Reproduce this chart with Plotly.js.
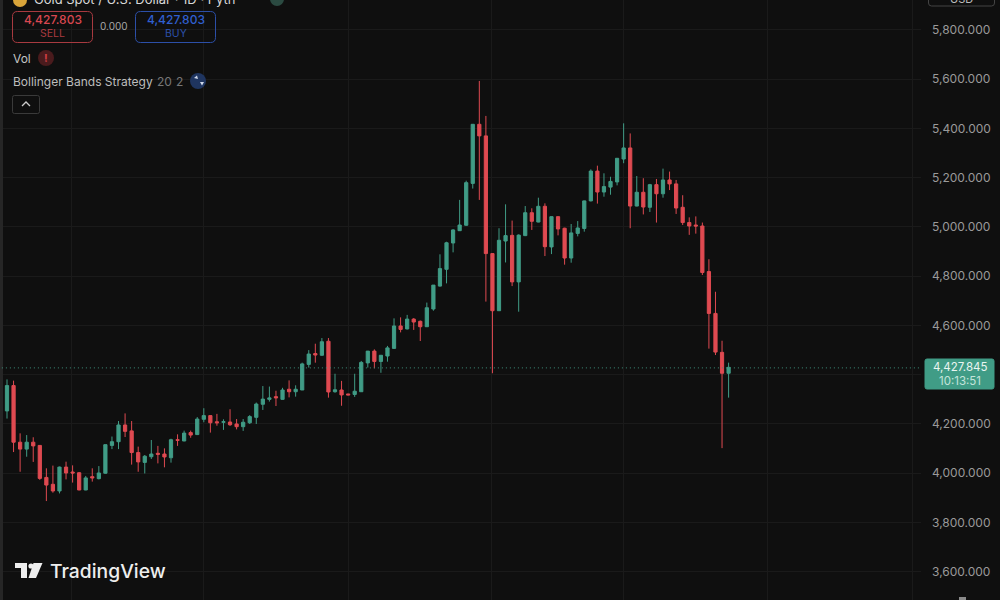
<!DOCTYPE html>
<html><head><meta charset="utf-8">
<script src="https://cdn.plot.ly/plotly-3.0.1.min.js"></script>
<style>html,body{margin:0;padding:0;background:#0f0f0f;overflow:hidden}#c{width:1000px;height:600px}</style>
</head><body><div id="c"></div>
<script>
const opens=[4253,4356,4126,4098,4126,4113,3983,3955,3928,4025,4005,4002,3932,3986,3978,4000,4113,4128,4196,4172,4084,4044,4067,4081,4078,4063,4136,4131,4165,4157,4219,4234,4209,4207,4208,4200,4189,
4205,4227,4280,4300,4311,4300,4341,4331,4338,4442,4486,4479,4536,4331,4338,4322,4320,4331,4448,4496,4454,4476,4507,4598,4586,4626,4617,
4595,4667,4760,4828,4935,4985,5007,5177,5417,5370,4892,4660,4943,4966,4777,4965,5058,5020,5084,4919,5042,4995,4874,4974,
4994,5106,5227,5142,5162,5183,5276,5321,5085,5141,5080,5172,5135,5191,5175,5080,5018,5008,5004,4819,4649,4491,4406];
const highs=[4381,4376,4162,4155,4146,4113,4020,4031,4027,4047,4032,4005,3989,4020,4029,4116,4149,4212,4243,4212,4108,4074,4135,4111,4101,4140,4158,4173,4173,4228,4264,4235,4241,4219,4260,4220,4220,
4236,4287,4354,4352,4335,4347,4377,4357,4449,4500,4526,4549,4549,4404,4375,4322,4404,4456,4496,4503,4480,4517,4629,4633,4643,4630,4620,
4693,4764,4889,4940,4991,5110,5188,5418,5593,5451,4893,4995,5092,5026,4970,5085,5076,5119,5096,5042,5042,4997,5012,5024,
5107,5234,5249,5218,5204,5280,5421,5380,5207,5198,5175,5195,5237,5225,5191,5129,5039,5043,5018,4869,4737,4538,4449];
const lows=[4222,4086,4006,4067,4046,3973,3887,3921,3918,3975,3962,3931,3931,3966,3975,3998,4098,4098,4147,4035,4006,3999,4058,4040,4024,4043,4111,4130,4144,4155,4207,4165,4193,4176,4192,4178,4172,
4200,4200,4257,4291,4273,4299,4308,4311,4338,4429,4449,4477,4307,4327,4274,4318,4310,4330,4429,4426,4408,4453,4506,4572,4584,4582,4537,
4594,4660,4758,4771,4897,4984,5005,5156,5110,4697,4406,4660,4856,4760,4656,4963,4988,5019,4882,4890,4966,4847,4855,4962,
4981,5104,5095,5123,5131,5169,5259,4995,5084,5051,5061,5018,5119,5150,5053,5008,4968,4973,4805,4506,4480,4102,4307];
const closes=[4356,4126,4098,4126,4111,3979,3952,3928,4025,4001,4001,3932,3981,3981,4001,4116,4128,4196,4170,4084,4046,4069,4078,4077,4066,4136,4134,4163,4155,4220,4234,4205,4205,4209,4197,4189,4207,
4230,4281,4301,4306,4306,4338,4331,4341,4444,4484,4480,4534,4330,4339,4318,4318,4333,4450,4496,4454,4479,4509,4598,4584,4626,4614,4595,
4672,4764,4831,4936,4988,5008,5180,5417,5370,4892,4660,4946,4965,4777,4967,5058,5023,5084,4920,5042,4992,4874,4976,4996,
5106,5227,5142,5164,5185,5279,5321,5085,5141,5081,5172,5135,5191,5175,5077,5018,5004,5004,4815,4649,4492,4406,4430];
const priceTicks=[3600,3800,4000,4200,4400,4600,4800,5000,5200,5400,5600,5800];
const timeTickIdx=[9.9,30,52.1,73.9,94,116,138];
const lastPrice=4427.845;

const xs=opens.map((_,i)=>i);
const GREEN='#409c86',RED='#df4a51',BG='#0f0f0f',GRID='#1a1a1a';
const X=p=>p/1000,Y=p=>1-p/600;
function rr(x0,y0,x1,y1,r){
  const P=(a,b)=>X(a)+','+Y(b);
  return 'M'+P(x0+r,y0)+' L'+P(x1-r,y0)+' Q'+P(x1,y0)+' '+P(x1,y0+r)+' L'+P(x1,y1-r)+' Q'+P(x1,y1)+' '+P(x1-r,y1)+
    ' L'+P(x0+r,y1)+' Q'+P(x0,y1)+' '+P(x0,y1-r)+' L'+P(x0,y0+r)+' Q'+P(x0,y0)+' '+P(x0+r,y0)+' Z';
}
function poly(pts){return 'M'+pts.map(p=>X(p[0])+','+Y(p[1])).join(' L')+' Z';}
function box(x0,y0,x1,y1,r,line,fill){return {type:'path',xref:'paper',yref:'paper',path:rr(x0,y0,x1,y1,r),line:{color:line,width:1},fillcolor:fill||'rgba(0,0,0,0)',layer:'above'};}
function circ(cx,cy,r,fill){return {type:'circle',xref:'paper',yref:'paper',x0:X(cx-r),x1:X(cx+r),y0:Y(cy+r),y1:Y(cy-r),fillcolor:fill,line:{width:0},layer:'above'};}
function fillPoly(pts,c){return {type:'path',xref:'paper',yref:'paper',path:poly(pts),fillcolor:c,line:{width:0},layer:'above'};}
function lineP(pts,c,w){return {type:'path',xref:'paper',yref:'paper',path:'M'+pts.map(p=>X(p[0])+','+Y(p[1])).join(' L'),line:{color:c,width:w},layer:'above'};}
function txt(t,x,y,size,color,opt){return Object.assign({text:t,xref:'paper',yref:'paper',x:X(x),y:Y(y),xanchor:'left',yanchor:'middle',showarrow:false,
  font:{family:'Inter, Roboto, sans-serif',size:size,color:color},borderpad:0,borderwidth:0},opt||{});}

const shapes=[
 {type:'rect',xref:'paper',yref:'paper',x0:0,x1:X(3),y0:0,y1:1,fillcolor:'#262626',line:{width:0},layer:'above'},
 {type:'line',xref:'x',yref:'y',x0:-2,x1:139.33,y0:lastPrice,y1:lastPrice,line:{color:'#3f8f7c',width:1,dash:'1px,3px'},layer:'above'},
 box(925,359,994,389,2,GREEN,GREEN),
 box(12.5,11.5,92.5,42.5,5,'#a83a40'),
 box(135.5,11.5,215.5,42.5,5,'#2c4fa8'),
 circ(46,58,8,'#4a1b1d'),
 circ(198,81,8,'#1f3560'),
 fillPoly([[194,78],[197,75.5],[198,79]],'#cfd8ea'),
 fillPoly([[200,82],[204,82],[202,85.5]],'#cfd8ea'),
 box(12.5,95.5,39.5,113.5,2,'#3a3a3a'),
 lineP([[22,106],[26,102],[30,106]],'#cccccc',1.3),
 circ(20,0,7,'#d9a53a'),
 circ(277,-1,7,'#2b4a41'),
 box(928.5,-8,994.5,6,3,'#444444'),
 fillPoly([[15,563],[27,563],[27,578],[21,578],[21,568],[15,568]],'#eeeeee'),
 circ(31,566,2.6,'#eeeeee'),
 fillPoly([[33.5,563],[42.5,563],[36,578],[28.5,578]],'#eeeeee'),
 fillPoly([[959,597],[966,597],[966,600],[959,600]],'#8a8a8a')
];
const annotations=[
 txt('Gold Spot / U.S. Dollar · 1D · Pyth',34,-1,13,'#d8d8d8'),
 txt('USD',961,-1,11,'#bbbbbb',{xanchor:'center'}),
 txt('4,427.803',52.5,20,12,'#d9474f',{xanchor:'center',font:{family:'Inter, Roboto, sans-serif',size:12,color:'#d9474f',weight:500}}),
 txt('SELL',52.5,33,10.5,'#a83a40',{xanchor:'center'}),
 txt('0.000',113.5,26,10,'#a8a8a8',{xanchor:'center'}),
 txt('4,427.803',175.5,20,12,'#2f5fd0',{xanchor:'center',font:{family:'Inter, Roboto, sans-serif',size:12,color:'#2f5fd0',weight:500}}),
 txt('BUY',175.5,33,10.5,'#2c4fa8',{xanchor:'center'}),
 txt('Vol',12.5,58,12,'#c4c4c4'),
 txt('!',46,58,11,'#cf3e44',{xanchor:'center',font:{family:'Inter, Roboto, sans-serif',size:11,color:'#cf3e44',weight:700}}),
 txt('Bollinger Bands Strategy',12.5,81,12,'#bdbdbd'),
 txt('20',157,81,12,'#777777'),
 txt('2',176,81,12,'#777777'),
 txt('4,427.845',959.5,367,11.5,'#eaf5f1',{xanchor:'center'}),
 txt('10:13:51',959.5,381,11.5,'#c3e4da',{xanchor:'center'}),
 txt('TradingView',49.5,571,19.3,'#eeeeee',{font:{family:'Inter, Roboto, sans-serif',size:19.3,color:'#eeeeee',weight:500}}),
 {text:'2026',xref:'x',yref:'paper',x:timeTickIdx[2],y:Y(597),yanchor:'top',xanchor:'center',showarrow:false,borderpad:0,font:{family:'Inter, Roboto, sans-serif',size:12,color:'#cccccc',weight:600}},
 {text:'Feb',xref:'x',yref:'paper',x:timeTickIdx[3],y:Y(597),yanchor:'top',xanchor:'center',showarrow:false,borderpad:0,font:{family:'Inter, Roboto, sans-serif',size:12,color:'#cccccc'}}
];
const trace={type:'candlestick',x:xs,open:opens,high:highs,low:lows,close:closes,whiskerwidth:0,
 increasing:{line:{color:GREEN,width:1},fillcolor:GREEN},
 decreasing:{line:{color:RED,width:1},fillcolor:RED},hoverinfo:'skip',showlegend:false};
const layout={width:1000,height:600,margin:{l:0,r:0,t:0,b:0,pad:0},paper_bgcolor:BG,plot_bgcolor:BG,showlegend:false,
 boxgap:0.3,
 xaxis:{domain:[0,0.921],range:[-1.067,139.33],tickmode:'array',tickvals:timeTickIdx,ticktext:timeTickIdx.map(()=>''),showgrid:true,gridcolor:GRID,gridwidth:1,zeroline:false,showline:false,ticks:'',rangeslider:{visible:false},fixedrange:true,automargin:false},
 yaxis:{side:'right',anchor:'x',range:[3485.2,5921.8],tickmode:'array',tickvals:priceTicks,tickformat:',.3f',showgrid:true,gridcolor:GRID,gridwidth:1,zeroline:false,showline:false,ticks:'',ticklabelstandoff:10,tickfont:{family:'Inter, Roboto, sans-serif',size:12,color:'#9a9a9a'},fixedrange:true,automargin:false},
 shapes,annotations};
Plotly.newPlot('c',[trace],layout,{staticPlot:true,displayModeBar:false});
</script></body></html>
